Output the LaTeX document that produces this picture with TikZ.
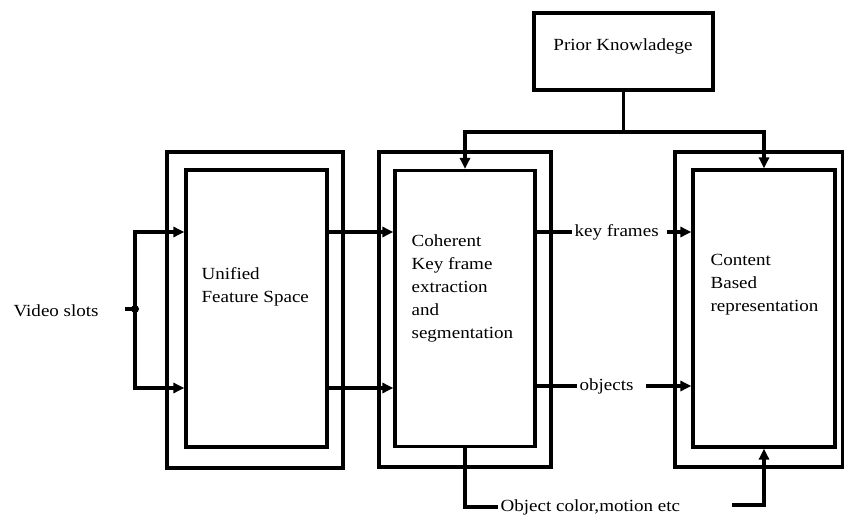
\documentclass[tikz,border=0pt]{standalone}
\usepackage{fontspec}
\setmainfont{Liberation Serif}[FakeStretch=1.12]
\usetikzlibrary{arrows.meta}
\begin{document}
\begin{tikzpicture}[x=1pt,y=-1pt,line width=3.2pt,
  box/.style={draw,line width=3.2pt,inner sep=0pt},
  lbl/.style={font=\fontsize{17}{23}\selectfont,align=left,inner sep=1pt},
  arr/.style={-{Triangle[length=11pt,width=10pt]}}]
\useasboundingbox (0,0) rectangle (844,519);
% boxes
\node[box,minimum width=176pt,minimum height=316pt] (o1) at (255,310) {};
\node[box,minimum width=141pt,minimum height=277pt] (i1) at (256.5,308.5) {};
\node[box,minimum width=172pt,minimum height=315pt] (o2) at (465,309.5) {};
\node[box,minimum width=140pt,minimum height=276pt] (i2) at (465,308.5) {};
\node[box,minimum width=168pt,minimum height=315pt] (o3) at (759,309.5) {};
\node[box,minimum width=142pt,minimum height=277pt] (i3) at (764,308.5) {};
\node[box,minimum width=179pt,minimum height=77pt] (pk) at (623.5,51.5) {};
\node[lbl] (pkt) at (623,46) {Prior Knowladege};
% texts
\node[lbl,anchor=west] (t1) at (199,287) {Unified\\Feature Space};
\node[lbl,anchor=west] (t2) at (409,288) {Coherent\\Key frame\\extraction\\and\\segmentation};
\node[lbl,anchor=west] (t3) at (708,285) {Content\\Based\\representation};
\node[lbl,anchor=west] (vs) at (11,311) {Video slots};
% helper coordinates
\coordinate (k1) at (0,232);
\coordinate (k2) at (0,388);
\coordinate (h) at (0,132);
\coordinate (dot) at (135,309);
% video slots
\draw (125,309) -- (dot);
\fill (dot) circle (4pt);
\draw[arr] (dot) |- (i1.west |- k1);
\draw[arr] (dot) |- (i1.west |- k2);
% box1 -> box2
\draw[arr] (i1.east |- k1) -- (i2.west |- k1);
\draw[arr] (i1.east |- k2) -- (i2.west |- k2);
% key frames
\node[lbl,anchor=west] (kf) at (572,232) {key frames};
\draw (i2.east |- k1) -- (kf.west);
\draw[arr] ([xshift=6pt]kf.east) -- (i3.west |- kf);
% objects
\node[lbl,anchor=west] (obj) at (577,386) {objects};
\draw (i2.east |- obj) -- (obj.west);
\draw[arr] ([xshift=10pt]obj.east) -- (i3.west |- obj);
% bottom
\node[lbl,anchor=west] (oc) at (498,507) {Object color,motion etc};
\draw (i2.south) |- (oc.west);
\coordinate (c3) at (732,505);
\draw[arr] (c3) -| (i3.south);
% prior knowledge
\draw (pk.south) -- (pk.south |- h);
\draw[arr] (pk.south |- h) -| (i2.north);
\draw[arr] (pk.south |- h) -| (i3.north);
\end{tikzpicture}
\end{document}
